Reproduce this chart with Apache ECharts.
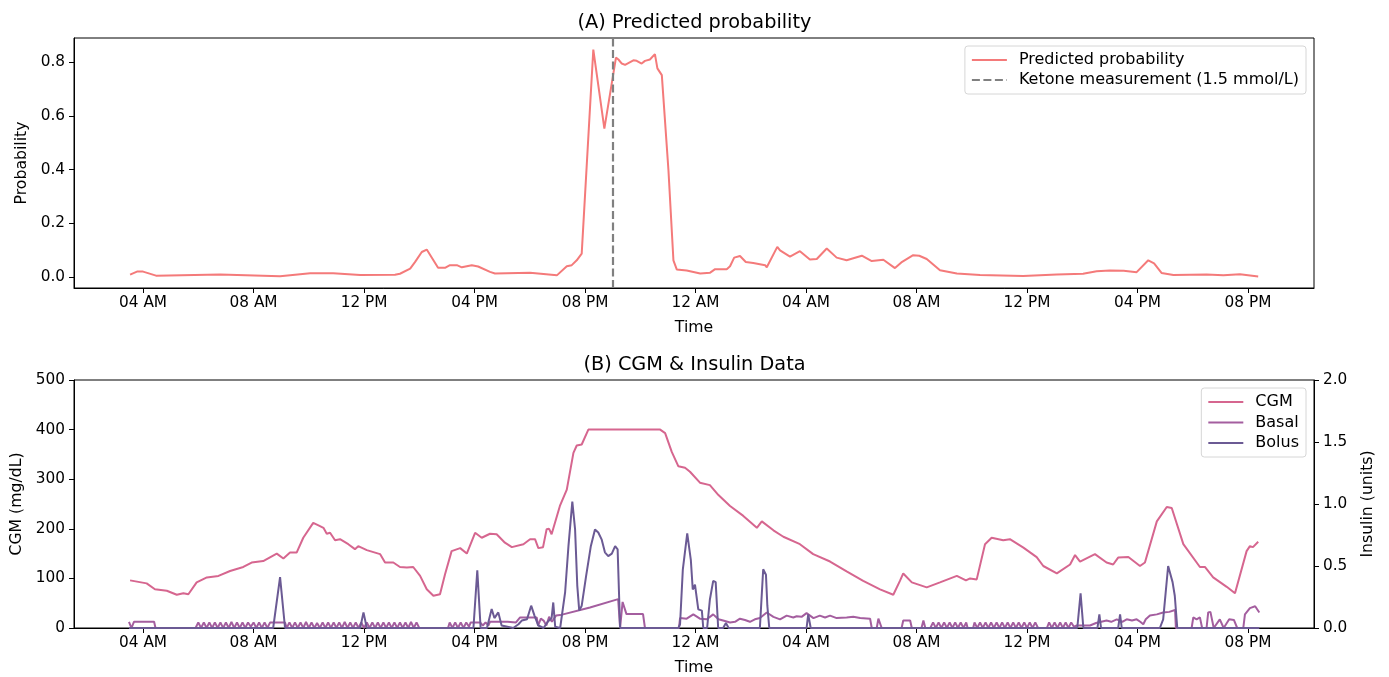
<!DOCTYPE html>
<html>
<head>
<meta charset="utf-8">
<script src="https://cdn.jsdelivr.net/npm/echarts@6/dist/echarts.min.js"></script>
<style>
  html, body { margin: 0; padding: 0; background: #fff; }
  #chart { width: 1389px; height: 677px; }
</style>
</head>
<body>
<div id="chart"></div>
<script>
// x values are hours counted from midnight of the first day
const tickHours = [4, 8, 12, 16, 20, 24, 28, 32, 36, 40, 44];
const tickLabels = ["04 AM", "08 AM", "12 PM", "04 PM", "08 PM", "12 AM", "04 AM", "08 AM", "12 PM", "04 PM", "08 PM"];
const probTicks = [0, 0.2, 0.4, 0.6, 0.8];
const ketoneHour = 21.02;

const probPoints = [
  [3.53, 0.010], [3.78, 0.021], [4.0, 0.021], [4.47, 0.006], [6.79, 0.010], [8.96, 0.004],
  [10.05, 0.015], [10.88, 0.015], [11.86, 0.008], [13.12, 0.009], [13.30, 0.013], [13.67, 0.032],
  [13.85, 0.057], [14.09, 0.094], [14.27, 0.103], [14.68, 0.035], [14.93, 0.035], [15.11, 0.045],
  [15.36, 0.045], [15.54, 0.037], [15.90, 0.045], [16.13, 0.040], [16.56, 0.020], [16.74, 0.014],
  [18.01, 0.017], [18.98, 0.007], [19.34, 0.041], [19.52, 0.045], [19.70, 0.063], [19.88, 0.088],
  [20.30, 0.847], [20.70, 0.553], [21.12, 0.817], [21.21, 0.810], [21.33, 0.795], [21.45, 0.790],
  [21.75, 0.807], [21.87, 0.805], [22.05, 0.795], [22.17, 0.805], [22.35, 0.810], [22.53, 0.830],
  [22.62, 0.777], [22.78, 0.752], [23.02, 0.398], [23.20, 0.063], [23.32, 0.029], [23.68, 0.025],
  [24.17, 0.014], [24.53, 0.017], [24.71, 0.030], [25.13, 0.030], [25.25, 0.041], [25.40, 0.073],
  [25.61, 0.079], [25.82, 0.057], [26.09, 0.053], [26.52, 0.045], [26.58, 0.037], [26.96, 0.113],
  [27.06, 0.100], [27.42, 0.077], [27.78, 0.097], [28.14, 0.066], [28.39, 0.068], [28.75, 0.107],
  [29.11, 0.073], [29.47, 0.063], [30.02, 0.080], [30.38, 0.060], [30.80, 0.065], [31.22, 0.034],
  [31.45, 0.055], [31.88, 0.082], [32.10, 0.080], [32.37, 0.068], [32.85, 0.026], [33.46, 0.014],
  [34.30, 0.008], [35.86, 0.005], [37.08, 0.010], [38.03, 0.013], [38.52, 0.022], [39.00, 0.025],
  [39.50, 0.024], [39.97, 0.019], [40.39, 0.063], [40.60, 0.052], [40.87, 0.016], [41.30, 0.008],
  [42.50, 0.010], [43.11, 0.007], [43.71, 0.011], [44.37, 0.003]
];

const cgmPoints = [
  [3.53, 96], [4.13, 90], [4.43, 78], [4.86, 75], [5.22, 67], [5.46, 70], [5.64, 68], [5.94, 92],
  [6.31, 102], [6.73, 105], [7.15, 115], [7.63, 123], [7.93, 132], [8.35, 135], [8.84, 150], [9.08, 140],
  [9.32, 152], [9.56, 152], [9.80, 182], [10.16, 212], [10.35, 207], [10.53, 202], [10.65, 190],
  [10.77, 192], [10.95, 177], [11.13, 179], [11.43, 169], [11.67, 159], [11.79, 165], [12.10, 157],
  [12.40, 152], [12.58, 149], [12.76, 132], [13.06, 132], [13.30, 123], [13.55, 122], [13.78, 123],
  [14.03, 105], [14.27, 78], [14.51, 65], [14.75, 68], [14.93, 108], [15.17, 155], [15.48, 161],
  [15.72, 150], [16.02, 192], [16.26, 182], [16.56, 190], [16.80, 189], [17.10, 172], [17.35, 163],
  [17.77, 169], [18.01, 179], [18.19, 179], [18.31, 161], [18.48, 163], [18.61, 199], [18.70, 200],
  [18.79, 189], [19.09, 246], [19.34, 279], [19.58, 353], [19.70, 368], [19.88, 370], [20.12, 400],
  [22.72, 400], [22.90, 393], [23.14, 355], [23.38, 326], [23.62, 323], [23.80, 315], [24.16, 293],
  [24.52, 288], [24.83, 268], [25.25, 246], [25.73, 226], [26.22, 202], [26.40, 215], [26.82, 197],
  [27.18, 184], [27.78, 169], [28.26, 149], [28.87, 134], [29.47, 114], [30.07, 95], [30.68, 78],
  [31.16, 67], [31.40, 95], [31.52, 110], [31.83, 92], [32.37, 82], [32.85, 92], [33.46, 105],
  [33.79, 96], [33.94, 100], [34.18, 98], [34.48, 169], [34.72, 182], [35.14, 177], [35.38, 179],
  [35.87, 162], [36.35, 143], [36.59, 125], [37.08, 110], [37.56, 128], [37.74, 147], [37.92, 134],
  [38.46, 149], [38.88, 132], [39.12, 128], [39.30, 142], [39.67, 143], [40.09, 125], [40.27, 132],
  [40.70, 215], [41.06, 244], [41.24, 242], [41.66, 169], [42.26, 123], [42.44, 123], [42.74, 102],
  [43.23, 83], [43.53, 70], [43.95, 155], [44.07, 165], [44.18, 163], [44.37, 174]
];

const basalPoints = [
  [3.49, 0.05], [3.58, 0], [3.67, 0.05], [4.4, 0.05], [4.45, 0], [5.9, 0],
  [6.0, 0.045], [6.1, 0], [6.2, 0.045], [6.3, 0], [6.4, 0.045], [6.5, 0], [6.6, 0.045], [6.7, 0],
  [6.8, 0.045], [6.9, 0], [7.0, 0.045], [7.1, 0], [7.2, 0.05], [7.3, 0], [7.4, 0.045], [7.5, 0],
  [7.6, 0.045], [7.7, 0], [7.8, 0.045], [7.9, 0.01], [8.0, 0.045], [8.1, 0], [8.2, 0.045], [8.3, 0],
  [8.4, 0.045], [8.5, 0], [8.6, 0.045], [9.14, 0.045],
  [9.2, 0], [9.3, 0.045], [9.4, 0], [9.5, 0.045], [9.6, 0], [9.7, 0.045], [9.8, 0], [9.9, 0.05],
  [10.0, 0], [10.1, 0.045], [10.2, 0], [10.3, 0.04], [10.4, 0], [10.5, 0.045], [10.6, 0], [10.7, 0.045],
  [10.8, 0], [10.9, 0.045], [11.0, 0], [11.1, 0.045], [11.2, 0], [11.3, 0.05], [11.4, 0], [11.5, 0.045],
  [11.6, 0], [11.7, 0.045], [11.8, 0], [11.9, 0.045], [12.0, 0], [12.1, 0.045], [12.2, 0], [12.3, 0.045],
  [12.4, 0], [12.5, 0.045], [12.6, 0], [12.7, 0.045], [12.8, 0], [12.9, 0.045], [13.0, 0], [13.1, 0.045],
  [13.2, 0], [13.3, 0.045], [13.4, 0], [13.5, 0.045], [13.6, 0], [13.7, 0.05], [13.8, 0], [13.9, 0.045],
  [14.0, 0], [15.04, 0],
  [15.1, 0.045], [15.2, 0], [15.3, 0.045], [15.4, 0], [15.5, 0.045], [15.6, 0], [15.7, 0.045], [15.8, 0.01],
  [15.86, 0.045], [16.2, 0.045], [16.3, 0.02], [16.4, 0.045], [16.5, 0.02], [16.56, 0.05], [17.2, 0.05],
  [17.5, 0.045], [17.65, 0.085], [18.25, 0.085], [18.3, 0.02], [18.4, 0.075], [18.5, 0.06], [18.6, 0.02],
  [18.7, 0.09], [18.8, 0.05], [18.95, 0.1], [19.1, 0.104], [20.18, 0.166], [21.2, 0.233], [21.27, 0],
  [21.36, 0.21], [21.5, 0.112], [22.1, 0.112], [22.17, 0], [23.4, 0],
  [23.44, 0.08], [23.68, 0.075], [23.92, 0.11], [24.16, 0.075], [24.41, 0.07], [24.64, 0.11], [24.83, 0.07],
  [25.0, 0.06], [25.25, 0.045], [25.43, 0.05], [25.61, 0.075], [25.79, 0.065], [25.97, 0.05], [26.15, 0.07],
  [26.33, 0.08], [26.58, 0.125], [26.82, 0.09], [27.06, 0.07], [27.3, 0.1], [27.54, 0.085], [27.66, 0.095],
  [27.84, 0.09], [28.02, 0.12], [28.27, 0.08], [28.5, 0.1], [28.69, 0.085], [28.87, 0.1], [29.11, 0.08],
  [29.47, 0.085], [29.71, 0.09], [29.96, 0.08], [30.32, 0.075], [30.38, 0], [30.56, 0], [30.62, 0.075],
  [30.74, 0], [31.46, 0], [31.52, 0.06], [31.77, 0.06], [31.83, 0], [32.18, 0], [32.25, 0.06], [32.32, 0],
  [32.5, 0],
  [32.6, 0.045], [32.7, 0], [32.8, 0.045], [32.9, 0], [33.0, 0.045], [33.1, 0], [33.2, 0.045], [33.3, 0],
  [33.4, 0.045], [33.5, 0], [33.6, 0.045], [33.7, 0], [33.8, 0.045], [33.85, 0], [34.05, 0],
  [34.1, 0.045], [34.2, 0], [34.3, 0.045], [34.4, 0], [34.5, 0.045], [34.6, 0], [34.7, 0.045], [34.8, 0],
  [34.9, 0.045], [35.0, 0], [35.1, 0.045], [35.2, 0], [35.3, 0.045], [35.4, 0], [35.5, 0.045], [35.6, 0],
  [35.7, 0.045], [35.8, 0], [35.9, 0.045], [36.0, 0], [36.1, 0.045], [36.2, 0], [36.3, 0.045], [36.4, 0],
  [36.72, 0],
  [36.8, 0.045], [36.9, 0], [37.0, 0.045], [37.1, 0], [37.2, 0.045], [37.3, 0], [37.4, 0.045], [37.5, 0],
  [37.6, 0.045], [37.7, 0.01], [37.8, 0.02], [38.28, 0.02], [38.5, 0.04], [38.88, 0.06], [39.05, 0.05],
  [39.25, 0.07], [39.45, 0.05], [39.61, 0.07], [39.8, 0.06], [39.97, 0.07], [40.1, 0.05], [40.21, 0.03],
  [40.3, 0.07], [40.45, 0.1], [40.7, 0.11], [40.93, 0.125], [41.15, 0.13], [41.36, 0.145], [41.39, 0],
  [41.96, 0], [42.02, 0.086], [42.14, 0.07], [42.26, 0.086], [42.34, 0], [42.5, 0], [42.56, 0.126],
  [42.64, 0.13], [42.76, 0], [42.98, 0.07], [43.12, 0], [43.32, 0.07], [43.49, 0.065], [43.61, 0],
  [43.83, 0], [43.89, 0.11], [44.07, 0.16], [44.26, 0.175], [44.32, 0.17], [44.41, 0.125]
];

const bolusPoints = [
  [3.49, 0], [8.71, 0], [8.96, 0.41], [9.14, 0], [11.86, 0], [11.98, 0.126], [12.1, 0],
  [15.96, 0], [16.1, 0.466], [16.22, 0], [16.45, 0], [16.62, 0.153], [16.72, 0.08], [16.86, 0.126],
  [16.98, 0.02], [17.4, 0], [17.59, 0.03], [17.71, 0.06], [17.9, 0.07], [18.05, 0.18], [18.17, 0.1],
  [18.31, 0.02], [18.5, 0], [18.65, 0.05], [18.79, 0.08], [18.85, 0.206], [18.92, 0.01], [19.1, 0],
  [19.28, 0.29], [19.40, 0.66], [19.54, 1.02], [19.64, 0.795], [19.72, 0.34], [19.79, 0.14], [19.88, 0.18],
  [20.04, 0.42], [20.21, 0.66], [20.36, 0.795], [20.48, 0.77], [20.6, 0.715], [20.72, 0.61], [20.84, 0.58],
  [20.97, 0.6], [21.09, 0.66], [21.18, 0.635], [21.27, 0], [23.38, 0], [23.44, 0.03], [23.54, 0.47],
  [23.7, 0.763], [23.83, 0.55], [23.9, 0.31], [23.98, 0.35], [24.1, 0.15], [24.23, 0.14], [24.28, 0],
  [24.42, 0], [24.52, 0.23], [24.64, 0.38], [24.73, 0.37], [24.82, 0], [25.0, 0], [25.1, 0.04], [25.2, 0],
  [26.33, 0], [26.45, 0.474], [26.55, 0.43], [26.6, 0.18], [26.67, 0], [28.02, 0], [28.08, 0.11],
  [28.17, 0], [37.82, 0], [37.94, 0.28], [38.04, 0], [38.55, 0], [38.62, 0.11], [38.68, 0], [39.3, 0],
  [39.37, 0.11], [39.43, 0], [40.81, 0], [40.93, 0.07], [41.11, 0.5], [41.17, 0.49], [41.27, 0.37],
  [41.35, 0.26], [41.44, 0], [44.41, 0]
];

const FONT = "DejaVu Sans";
const TEXT = "#000";
const TICK_SIZE = 15.3;
const NAME_SIZE = 15.7;

function hourLabel(v) {
  const i = tickHours.findIndex(t => Math.abs(t - v) < 1e-6);
  return i >= 0 ? tickLabels[i] : "";
}

function timeAxis(gridIndex) {
  return {
    type: "value",
    gridIndex: gridIndex,
    min: 1.5,
    max: 46.39,
    name: "Time",
    nameLocation: "middle",
    nameGap: 32,
    nameTextStyle: { fontFamily: FONT, fontSize: NAME_SIZE, color: TEXT },
    axisLine: { show: true, onZero: false, lineStyle: { color: TEXT, width: 1 } },
    axisTick: { show: true, length: 5, customValues: tickHours, lineStyle: { color: TEXT, width: 1 } },
    axisLabel: {
      customValues: tickHours,
      formatter: hourLabel,
      margin: 8,
      fontFamily: FONT,
      fontSize: TICK_SIZE,
      color: TEXT
    },
    splitLine: { show: false }
  };
}

function plainAxis(extra) {
  return Object.assign({
    type: "value",
    nameLocation: "middle",
    nameRotate: 90,
    nameTextStyle: { fontFamily: FONT, fontSize: NAME_SIZE, color: TEXT },
    axisLine: { show: true, onZero: false, lineStyle: { color: TEXT, width: 1 } },
    axisTick: { show: true, length: 5, lineStyle: { color: TEXT, width: 1 } },
    splitLine: { show: false }
  }, extra);
}

function legendBox(names, top, gap) {
  return {
    data: names,
    orient: "vertical",
    right: 83,
    top: top,
    padding: [6, 7, 6, 6],
    itemGap: gap,
    itemWidth: 35,
    itemHeight: 14,
    itemStyle: { opacity: 0 },
    backgroundColor: "#fff",
    borderColor: "#d6d6d6",
    borderWidth: 1,
    borderRadius: 3,
    textStyle: { fontFamily: FONT, fontSize: 16, color: TEXT, padding: [0, 0, 0, 7] }
  };
}

const chart = echarts.init(document.getElementById("chart"), null, { renderer: "canvas" });

const option = {
  backgroundColor: "#fff",
  animation: false,
  title: [
    {
      text: "(A) Predicted probability",
      left: "center",
      top: 8,
      textStyle: { fontFamily: FONT, fontSize: 19.3, fontWeight: "normal", color: TEXT }
    },
    {
      text: "(B) CGM & Insulin Data",
      left: "center",
      top: 350,
      textStyle: { fontFamily: FONT, fontSize: 19.3, fontWeight: "normal", color: TEXT }
    }
  ],
  legend: [
    legendBox(["Predicted probability", "Ketone measurement (1.5 mmol/L)"], 46, 4),
    legendBox(["CGM", "Basal", "Bolus"], 388, 4.5)
  ],
  grid: [
    { left: 74, right: 75, top: 38, height: 250, show: true, borderColor: TEXT, borderWidth: 1 },
    { left: 74, right: 75, top: 380, height: 249, show: true, borderColor: TEXT, borderWidth: 1 }
  ],
  xAxis: [timeAxis(0), timeAxis(1)],
  yAxis: [
    plainAxis({
      gridIndex: 0,
      min: -0.04,
      max: 0.89,
      name: "Probability",
      nameGap: 43,
      axisTick: { show: true, length: 5, customValues: probTicks, lineStyle: { color: TEXT, width: 1 } },
      axisLabel: {
        customValues: probTicks,
        formatter: v => v.toFixed(1),
        margin: 9,
        fontFamily: FONT,
        fontSize: TICK_SIZE,
        color: TEXT
      }
    }),
    plainAxis({
      gridIndex: 1,
      min: 0,
      max: 500,
      interval: 100,
      name: "CGM (mg/dL)",
      nameGap: 49,
      axisLabel: { margin: 9, fontFamily: FONT, fontSize: TICK_SIZE, color: TEXT }
    }),
    plainAxis({
      gridIndex: 1,
      position: "right",
      min: 0,
      max: 2,
      interval: 0.5,
      name: "Insulin (units)",
      nameGap: 46,
      axisLabel: { margin: 9, formatter: v => v.toFixed(1), fontFamily: FONT, fontSize: TICK_SIZE, color: TEXT }
    })
  ],
  series: [
    {
      name: "Predicted probability",
      type: "line",
      xAxisIndex: 0,
      yAxisIndex: 0,
      data: probPoints,
      symbol: "none",
      color: "#f47a7a",
      lineStyle: { color: "#f47a7a", width: 2 }
    },
    {
      name: "Ketone measurement (1.5 mmol/L)",
      type: "line",
      xAxisIndex: 0,
      yAxisIndex: 0,
      data: [],
      symbol: "none",
      color: "#808080",
      lineStyle: { color: "#808080", width: 2, type: [8, 3.5] },
      markLine: {
        silent: true,
        symbol: "none",
        label: { show: false },
        lineStyle: { color: "#808080", width: 2.2, type: [8, 3.5] },
        data: [{ xAxis: ketoneHour }]
      }
    },
    {
      name: "CGM",
      type: "line",
      xAxisIndex: 1,
      yAxisIndex: 1,
      data: cgmPoints,
      symbol: "none",
      color: "#d6668f",
      lineStyle: { color: "#d6668f", width: 2 }
    },
    {
      name: "Basal",
      type: "line",
      xAxisIndex: 1,
      yAxisIndex: 2,
      data: basalPoints,
      symbol: "none",
      color: "#a45e9f",
      lineStyle: { color: "#a45e9f", width: 2 }
    },
    {
      name: "Bolus",
      type: "line",
      xAxisIndex: 1,
      yAxisIndex: 2,
      data: bolusPoints,
      symbol: "none",
      color: "#6b5a94",
      lineStyle: { color: "#6b5a94", width: 2 }
    }
  ]
};

chart.setOption(option);
</script>
</body>
</html>
